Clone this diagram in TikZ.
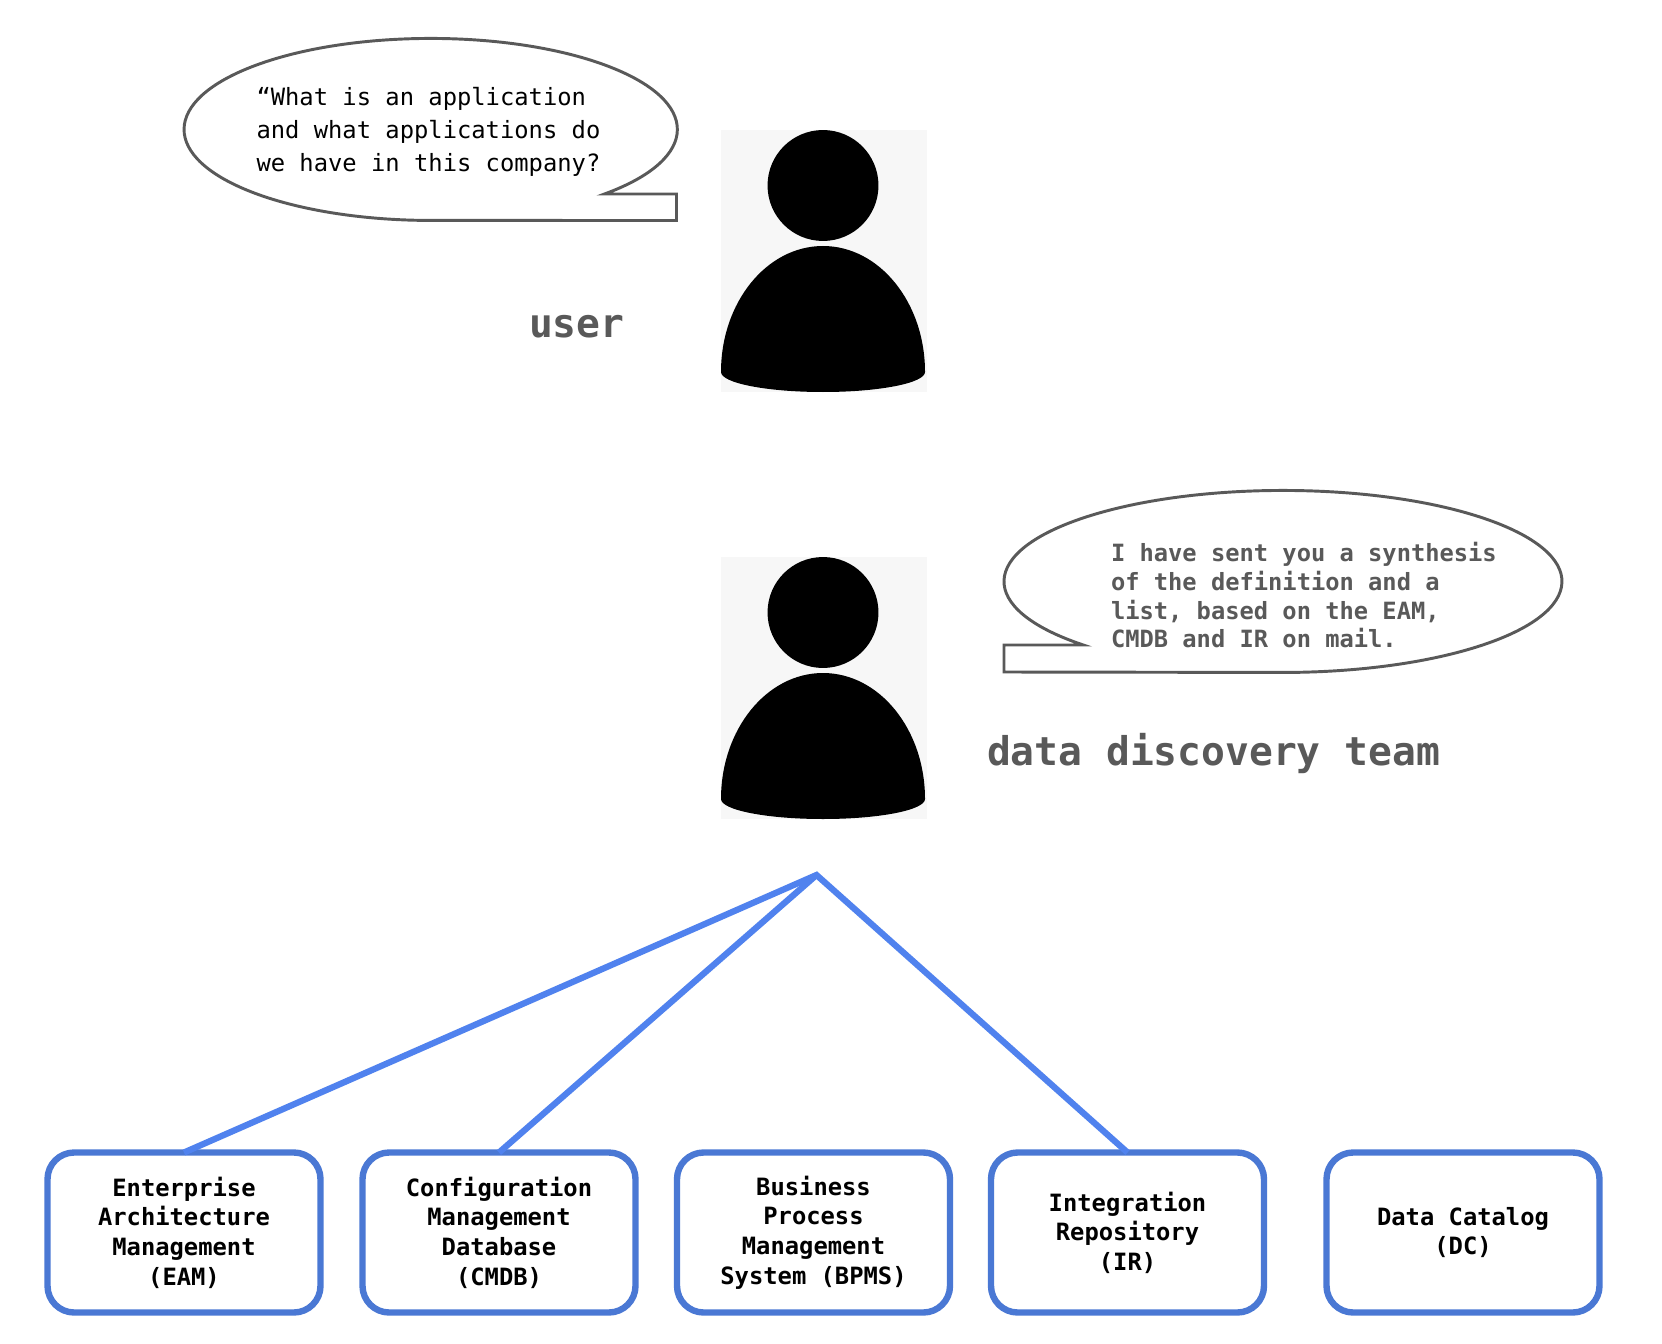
\documentclass[tikz,border=0pt]{standalone}
\usepackage{fontspec}
\setmainfont{DejaVu Sans Mono}
\definecolor{inkgray}{HTML}{595959}
\definecolor{boxblue}{HTML}{4A78D4}
\definecolor{linkblue}{HTML}{5082EE}
\definecolor{portraitbg}{HTML}{F7F7F7}
\tikzset{
  bubble/.style={draw=inkgray,line width=2.2pt,fill=white,line join=miter},
  sourcebox/.style={draw=boxblue,line width=4.8pt,rounded corners=20pt,minimum width=204.75pt,minimum height=120pt,
    align=center,inner sep=0pt,outer sep=0pt,font=\fontsize{17.85}{22.2}\selectfont\bfseries},
  link/.style={draw=linkblue,line width=4.7pt,line join=miter},
  saying/.style={align=left,anchor=west,inner sep=0pt,outer sep=0pt},
  rolename/.style={anchor=base west,inner sep=0pt,outer sep=0pt,text=inkgray,font=\fontsize{29.7}{35}\selectfont\bfseries},
  portrait/.pic={
    \fill[portraitbg] (-102,-55.5) rectangle (104,206.5);
    \fill[black] (0,0) circle[radius=41.6pt];
    \fill[black] (-102,186.5) arc[start angle=180,end angle=0,x radius=76.5pt,y radius=94.5pt]
      arc[start angle=0,end angle=-180,x radius=76.5pt,y radius=15pt] -- cycle;
  }
}
\begin{document}
\begin{tikzpicture}[x=0.75pt,y=-0.75pt]
\useasboundingbox[fill=white] (0,0) rectangle (1662,1344);

% the person asking and the person answering
\pic at (823,185.5) {portrait};
\pic at (823,612.5) {portrait};

% speech bubbles, each an ellipse with a square tail
\coordinate (tipA) at (604.5,194);
\draw[bubble] (tipA) arc[start angle=-45.2,end angle=270,x radius=185pt,y radius=68.25pt]
  -- (676.5,220.5) -- (676.5,194) -- cycle;
\coordinate (tipB) at (1083.3,645);
\draw[bubble] (tipB) arc[start angle=224.3,end angle=-90,x radius=209.25pt,y radius=68.25pt]
  -- (1004,672) -- (1004,645) -- cycle;

\node[saying,font=\fontsize{17.85}{24.7}\selectfont] (question) at (256.5,132)
  {“What is an application\\and what applications do\\we have in this company?};
\node[saying,text=inkgray,font=\fontsize{17.8}{21.5}\selectfont\bfseries] (answer) at (1111,595.5)
  {I have sent you a synthesis\\of the definition and a\\list, based on the EAM,\\CMDB and IR on mail.};

\node[rolename] (user) at (529,338) {user};
\node[rolename] (team) at (987,765) {data discovery team};

% source systems
\node[sourcebox] (eam) at (184,1232.5) {Enterprise\\Architecture\\Management\\(EAM)};
\node[sourcebox] (cmdb) at (499,1232.5) {Configuration\\Management\\Database\\(CMDB)};
\node[sourcebox] (bpms) at (813.5,1232.5) {Business\\Process\\Management\\System (BPMS)};
\node[sourcebox] (ir) at (1127.5,1232.5) {Integration\\Repository\\(IR)};
\node[sourcebox] (dc) at (1463,1232.5) {Data Catalog\\(DC)};

% links from the team to the systems it consulted
\coordinate (hub) at (816.5,875);
\draw[link] (eam.north) -- (hub) -- (ir.north);
\draw[link] (hub) -- (cmdb.north);
\end{tikzpicture}
\end{document}
